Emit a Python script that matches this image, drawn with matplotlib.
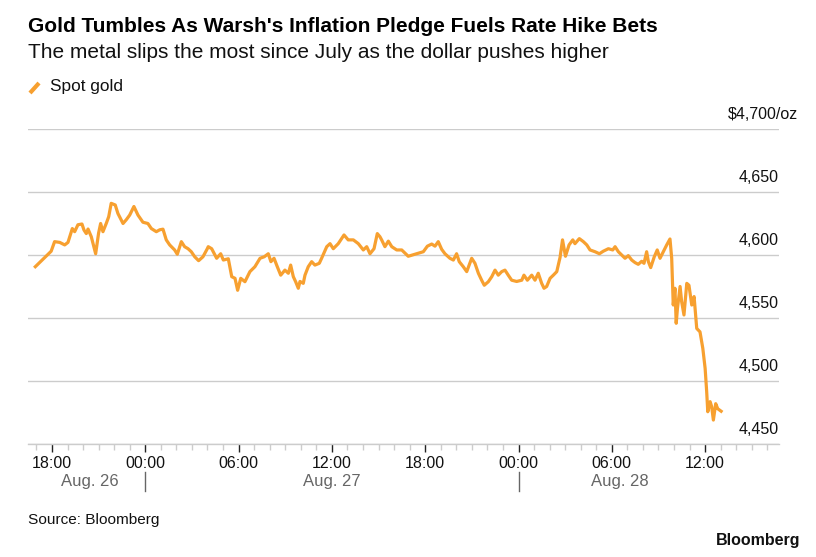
import matplotlib
matplotlib.use("Agg")
import matplotlib.pyplot as plt
import matplotlib.transforms as mtransforms
from matplotlib.lines import Line2D
import numpy as np

# hours since Aug. 26 00:00, spot gold in $/oz
hours = [16.93, 17.95, 18.17, 18.50, 18.82, 19.03, 19.31, 19.46, 19.67, 19.93,
         20.06, 20.21, 20.32, 20.53, 20.81, 21.00, 21.13, 21.28, 21.49, 21.65,
         21.81, 22.07, 22.24, 22.57, 22.78, 23.00, 23.27, 23.53, 23.85, 24.17,
         24.39, 24.71, 24.93, 25.14, 25.35, 25.57, 25.89, 26.06, 26.32, 26.53,
         26.75, 26.96, 27.18, 27.43, 27.71, 27.99, 28.05, 28.27, 28.59, 28.85,
         29.02, 29.34, 29.56, 29.77, 29.94, 30.14, 30.41, 30.73, 31.05, 31.38,
         31.65, 31.91, 32.08, 32.28, 32.49, 32.71, 32.98, 33.20, 33.35, 33.52,
         33.67, 33.84, 33.95, 34.16, 34.27, 34.48, 34.70, 34.91, 35.19, 35.34,
         35.67, 35.88, 36.09, 36.41, 36.78, 37.05, 37.38, 37.70, 38.02, 38.24,
         38.45, 38.71, 38.92, 39.09, 39.20, 39.41, 39.63, 39.85, 40.17, 40.49,
         40.91, 41.45, 41.88, 42.14, 42.42, 42.63, 42.84, 43.06, 43.27, 43.59,
         43.81, 44.02, 44.19, 44.45, 44.67, 44.99, 45.20, 45.42, 45.63, 45.80,
         46.06, 46.28, 46.49, 46.70, 46.92, 47.13, 47.34, 47.56, 47.88, 48.21,
         48.35, 48.57, 48.85, 49.06, 49.27, 49.49, 49.64, 49.81, 50.03, 50.24,
         50.46, 50.67, 50.83, 51.02, 51.25, 51.49, 51.63, 51.91, 52.17, 52.39,
         52.60, 52.92, 53.20, 53.45, 53.78, 54.06, 54.21, 54.42, 54.64, 54.85,
         55.06, 55.28, 55.49, 55.70, 55.92, 56.07, 56.24, 56.35, 56.50, 56.73,
         56.92, 57.10, 57.31, 57.53, 57.74, 57.85, 57.95, 58.06, 58.14, 58.22,
         58.39, 58.49, 58.64, 58.82, 58.96, 59.14, 59.29, 59.46, 59.67, 59.85,
         60.00, 60.10, 60.17, 60.32, 60.42, 60.53, 60.68, 60.81, 61.03]
gold = [4590.7, 4603.0, 4610.6, 4610.0, 4608.0, 4610.0, 4621.0, 4618.5, 4624.0, 4624.6,
        4619.8, 4617.0, 4620.6, 4614.5, 4601.0, 4617.4, 4625.0, 4618.5, 4625.0, 4630.4,
        4641.0, 4639.7, 4633.0, 4625.0, 4628.0, 4631.7, 4638.5, 4631.7, 4626.0, 4625.0,
        4621.0, 4618.5, 4620.0, 4620.5, 4612.0, 4608.0, 4604.0, 4600.6, 4610.6, 4606.6,
        4605.0, 4602.6, 4598.6, 4595.5, 4598.6, 4605.0, 4606.6, 4605.0, 4597.4, 4601.0,
        4596.0, 4597.0, 4582.8, 4581.5, 4572.0, 4581.5, 4578.8, 4586.8, 4590.7, 4597.4,
        4598.6, 4601.0, 4594.7, 4597.4, 4590.7, 4584.0, 4588.0, 4585.5, 4592.0, 4582.8,
        4578.8, 4573.6, 4579.0, 4577.5, 4584.0, 4590.7, 4594.7, 4592.0, 4593.4, 4597.4,
        4606.6, 4609.0, 4605.0, 4609.0, 4615.9, 4612.0, 4612.0, 4609.0, 4604.0, 4606.6,
        4601.0, 4605.0, 4617.0, 4614.5, 4612.0, 4606.6, 4611.0, 4606.6, 4604.0, 4604.0,
        4599.0, 4601.0, 4602.6, 4607.0, 4608.7, 4607.0, 4610.6, 4604.5, 4601.0, 4597.4,
        4596.0, 4601.0, 4594.7, 4590.7, 4586.8, 4597.4, 4593.4, 4585.5, 4580.0, 4576.0,
        4578.8, 4582.8, 4588.0, 4584.0, 4586.8, 4588.0, 4584.0, 4580.0, 4579.0, 4580.0,
        4584.0, 4580.0, 4584.0, 4580.0, 4585.5, 4577.5, 4573.6, 4575.0, 4581.5, 4584.0,
        4586.8, 4598.0, 4612.0, 4599.0, 4608.0, 4612.0, 4609.0, 4613.0, 4610.6, 4608.0,
        4604.0, 4602.6, 4601.0, 4603.0, 4605.0, 4604.0, 4606.6, 4602.6, 4600.0, 4597.4,
        4599.5, 4596.0, 4594.0, 4592.6, 4595.0, 4593.4, 4602.6, 4594.7, 4590.0, 4598.6,
        4604.0, 4597.4, 4602.6, 4608.0, 4612.7, 4597.4, 4560.3, 4573.6, 4545.8, 4557.6,
        4575.0, 4563.0, 4552.4, 4577.5, 4576.0, 4560.3, 4567.0, 4541.7, 4539.0, 4526.0,
        4510.0, 4491.5, 4475.6, 4483.6, 4479.6, 4469.0, 4482.0, 4478.0, 4476.0]

y_ticks = [4450, 4500, 4550, 4600, 4650, 4700]
x_ticks = [18, 24, 30, 36, 42, 48, 54, 60]
x_tick_labels = ["18:00", "00:00", "06:00", "12:00", "18:00", "00:00", "06:00", "12:00"]
days = ["Aug. 26", "Aug. 27", "Aug. 28"]
day_breaks = [24, 48]

GOLD = "#F7A030"
GRID = "#cccccc"
FONT = "Liberation Sans"
INK = "#111111"

fig = plt.figure(figsize=(8.16, 5.57), dpi=100)
ax = fig.add_axes([28 / 816, 1 - 444 / 557, 751 / 816, 315 / 557])

ax.plot(hours, gold, color=GOLD, lw=2.3, solid_joinstyle="round", clip_on=False)

ax.set_xlim(16.46, 64.75)
ax.set_ylim(4450, 4700)
ax.set_yticks(y_ticks)
ax.yaxis.grid(True, color=GRID, lw=1)
ax.tick_params(axis="y", length=0, labelleft=False, labelright=False)
for s in ["top", "left", "right"]:
    ax.spines[s].set_visible(False)
ax.spines["bottom"].set_color(GRID)
ax.spines["bottom"].set_linewidth(1)
ax.set_axisbelow(True)

ax.set_xticks(x_ticks)
ax.set_xticklabels(x_tick_labels, fontsize=11.5, family=FONT, color=INK)
ax.set_xticks(np.arange(17, 65, 1), minor=True)
ax.tick_params(axis="x", which="major", length=6, width=1, color="#222222", pad=3)
ax.tick_params(axis="x", which="minor", length=4, width=1, color=GRID)

# y labels sit above gridlines, right aligned to the end of the grid
for v in y_ticks:
    lab = "{:,}".format(v)
    dx = 0
    if v == y_ticks[-1]:
        lab = "$" + lab + "/oz"
        dx = 14
    ax.annotate(lab, xy=(1.0, v), xycoords=("axes fraction", "data"),
                xytext=(dx, 5), textcoords="offset points", ha="right", va="bottom",
                fontsize=11.5, family=FONT, color=INK, annotation_clip=False)

# day labels centred on the data within each day, separators at midnight
trans = mtransforms.blended_transform_factory(ax.transData, ax.transAxes)
edges = [hours[0]] + day_breaks + [hours[-1]]
for i, d in enumerate(days):
    ax.text((edges[i] + edges[i + 1]) / 2, -0.12, d, transform=trans, ha="center",
            va="center", fontsize=12, family=FONT, color="#666666")
for b in day_breaks:
    ax.plot([b, b], [-0.09, -0.15], transform=trans, color="#666666", lw=1, clip_on=False)

fig.text(28 / 816, 1 - 27 / 557, "Gold Tumbles As Warsh's Inflation Pledge Fuels Rate Hike Bets",
         fontsize=15, fontweight="bold", family=FONT, va="center", ha="left")
fig.text(28 / 816, 1 - 52 / 557, "The metal slips the most since July as the dollar pushes higher",
         fontsize=15, family=FONT, va="center", ha="left", color=INK)
fig.add_artist(Line2D([30 / 816, 39 / 816], [1 - 93 / 557, 1 - 83 / 557], color=GOLD,
                      lw=3, solid_capstyle="butt", transform=fig.transFigure))
fig.text(50 / 816, 1 - 87 / 557, "Spot gold", fontsize=12.4, family=FONT, va="center", ha="left",
         color=INK)
fig.text(28 / 816, 1 - 520 / 557, "Source: Bloomberg", fontsize=11.1, family=FONT,
         va="center", ha="left", color=INK)
fig.text(800 / 816, 1 - 540 / 557, "Bloomberg", fontsize=11.5, fontweight="bold", family=FONT,
         va="center", ha="right", color=INK)

fig.savefig("out.png", dpi=100, facecolor="white")
